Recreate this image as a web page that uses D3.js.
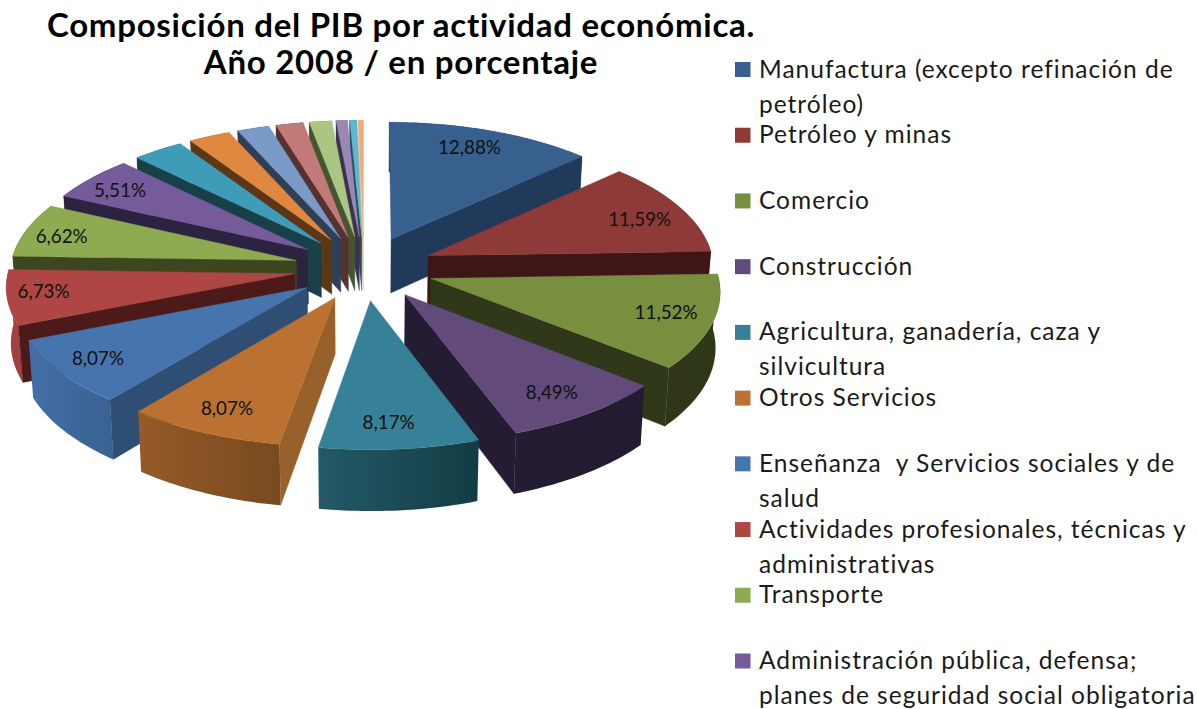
<!DOCTYPE html>
<html><head><meta charset="utf-8">
<script src="https://cdn.jsdelivr.net/npm/d3@7"></script>
<style>html,body{margin:0;padding:0;background:#fff}svg{display:block}</style>
</head><body><svg id="c" width="1197" height="709"></svg>
<script>
const titleLines = ["Composición del PIB por actividad económica.", "Año 2008 / en porcentaje"];
const values = [12.88,11.59,11.52,8.49,8.17,8.07,8.07,6.73,6.62,5.51,3.2,2.6,2.0,1.7,1.4,0.7,0.45,0.3];
const valueLabels = ["12,88%","11,59%","11,52%","8,49%","8,17%","8,07%","8,07%","6,73%","6,62%","5,51%"];
const legendLines = [
 ["Manufactura (excepto refinación de","petróleo)"],
 ["Petróleo y minas"],
 ["Comercio"],
 ["Construcción"],
 ["Agricultura, ganadería, caza y","silvicultura"],
 ["Otros Servicios"],
 ["Enseñanza  y Servicios sociales y de","salud"],
 ["Actividades profesionales, técnicas y","administrativas"],
 ["Transporte"],
 ["Administración pública, defensa;","planes de seguridad social obligatoria"]
];
const topColors  = ["#38608f","#8e3a39","#788f3f","#624a7a","#378198","#ba7131","#4675ae","#ae4644","#8fab52","#755b99","#3f9cb8","#e08740","#7a9ac8","#c27a79","#abc582","#9987b5","#60b6d0","#f5aa75"];
const wallColors = ["#223a5a","#3e1615","#30381a","#241c32","#1f4f5c","#98602a","#2f4e73","#4c1a18","#3c471f","#2c2340","#184049","#5c3716","#2f3f56","#553230","#45552f","#3c3250","#254e5a","#e9c4a8"];
const rimFrom    = ["#223a5a","#3e1615","#2f3618","#241c32","#245968","#965a28","#436fa8","#a84341","#3c471f","#2c2340","#184049","#5c3716","#2f3f56","#553230","#45552f","#3c3250","#254e5a","#e9c4a8"];
const rimTo      = ["#223a5a","#3e1615","#30381a","#231b31","#123c44","#774a1f","#3a6291","#a04040","#3c471f","#2c2340","#184049","#5c3716","#2f3f56","#553230","#45552f","#3c3250","#254e5a","#e9c4a8"];

const svg = d3.select("#c");
const cx=364, cy=268, R=286, K=131, persp=0.083, explode=0.245, depth=55, baseShrink=0.987;
const sx = d3.scaleLinear().domain([0,1]).range([cx,cx+R]);
const sy = d3.scaleLinear().domain([0,1]).range([cy,cy+K]);
function proj(X,Y,z){
  const s=1/(1-persp*Y);
  const px=X*s, py=Y*s;
  return z ? [cx+(sx(px)-cx)*baseShrink, sy(py)+depth*s] : [sx(px),sy(py)];
}
const arcs = d3.pie().sort(null).value(d=>d).startAngle(0).endAngle(2*Math.PI)(values);
const line = d3.line();
const defs = svg.append("defs");
const slices = arcs.map((a,i)=>{
  const mid=(a.startAngle+a.endAngle)/2;
  const ox=explode*Math.sin(mid), oy=-explode*Math.cos(mid);
  const pt=(r,t,z)=>proj(ox+r*Math.sin(t),oy-r*Math.cos(t),z);
  const n=Math.max(4,Math.ceil((a.endAngle-a.startAngle)/0.02));
  const ts=d3.range(n+1).map(k=>a.startAngle+(a.endAngle-a.startAngle)*k/n);
  return {i,a,mid,ox,oy,pt,ts};
});
const order = slices.slice().sort((p,q)=>p.oy-q.oy);
const g = svg.append("g");
order.forEach(s=>{
  const {i,pt,ts,a}=s;
  const wall=t=>[pt(0,t,false),pt(1,t,false),pt(1,t,true),pt(0,t,true)];
  const fillQuad=q=>g.append("path").attr("d",line(q)+"Z").attr("fill",wallColors[i]).attr("stroke",wallColors[i]).attr("stroke-width",0.4);
  const topRim=ts.map(t=>pt(1,t,false)), botRim=ts.map(t=>pt(1,t,true)).reverse();
  const xs=d3.extent(topRim,p=>p[0]);
  const gid="rim"+i;
  const lg=defs.append("linearGradient").attr("id",gid).attr("gradientUnits","userSpaceOnUse")
    .attr("x1",xs[0]).attr("x2",xs[1]+0.01).attr("y1",0).attr("y2",0);
  lg.append("stop").attr("offset",0).attr("stop-color",rimFrom[i]);
  lg.append("stop").attr("offset",1).attr("stop-color",rimTo[i]);
  g.append("path").attr("d",line(topRim.concat(botRim))+"Z").attr("fill",`url(#${gid})`);
  // only the radial wall that faces the viewer is visible
  if (a.startAngle>Math.PI) fillQuad(wall(a.startAngle));
  if (a.endAngle<Math.PI) fillQuad(wall(a.endAngle));
  const face=[pt(0,a.startAngle,false)].concat(topRim);
  g.append("path").attr("d",line(face)+"Z").attr("fill",topColors[i]).attr("stroke",topColors[i]).attr("stroke-width",0.4);
});
// value labels
const labelRadius=[0.836,0.823,0.834,0.823,0.826,0.829,0.85,0.873,0.862,0.851];
const labelTurn=[-0.034,0.033,-0.024,0.009,0.022,0.003,0.008,0.027,-0.019,-0.014];
valueLabels.forEach((t,i)=>{
  const s=slices[i];
  const p=s.pt(labelRadius[i],s.mid+labelTurn[i],false);
  svg.append("text").attr("x",p[0]).attr("y",p[1]).attr("text-anchor","middle").attr("dominant-baseline","central")
    .attr("font-family","Lato, 'Noto Sans', sans-serif").attr("font-size",18.5).attr("fill","#111")
    .attr("textLength",t.length===6?63:52).attr("lengthAdjust","spacingAndGlyphs").text(t);
});
// title
const titleY=d3.scalePoint().domain(titleLines).range([37,74]);
titleLines.forEach(t=>{
  svg.append("text").attr("x",401).attr("y",titleY(t)).attr("text-anchor","middle")
   .attr("font-family","Lato, 'Open Sans', sans-serif").attr("font-weight",700).attr("font-size",33).attr("letter-spacing",0.73).attr("fill","#000").text(t);
});
// legend
const legY=d3.scaleLinear().domain([0,9]).range([69.5,661]);
const lineGap=35;
legendLines.forEach((lines,i)=>{
  svg.append("rect").attr("x",735).attr("y",legY(i)-7.5).attr("width",15.5).attr("height",15).attr("fill",topColors[i]);
  lines.forEach((l,j)=>{
    svg.append("text").attr("x",759).attr("y",legY(i)+lineGap*j+8).style("white-space","pre")
     .attr("font-family","Lato, 'Noto Sans', sans-serif").attr("font-size",24.5).attr("fill","#1a1a1a").attr("letter-spacing",1).text(l);
  });
});
</script></body></html>
